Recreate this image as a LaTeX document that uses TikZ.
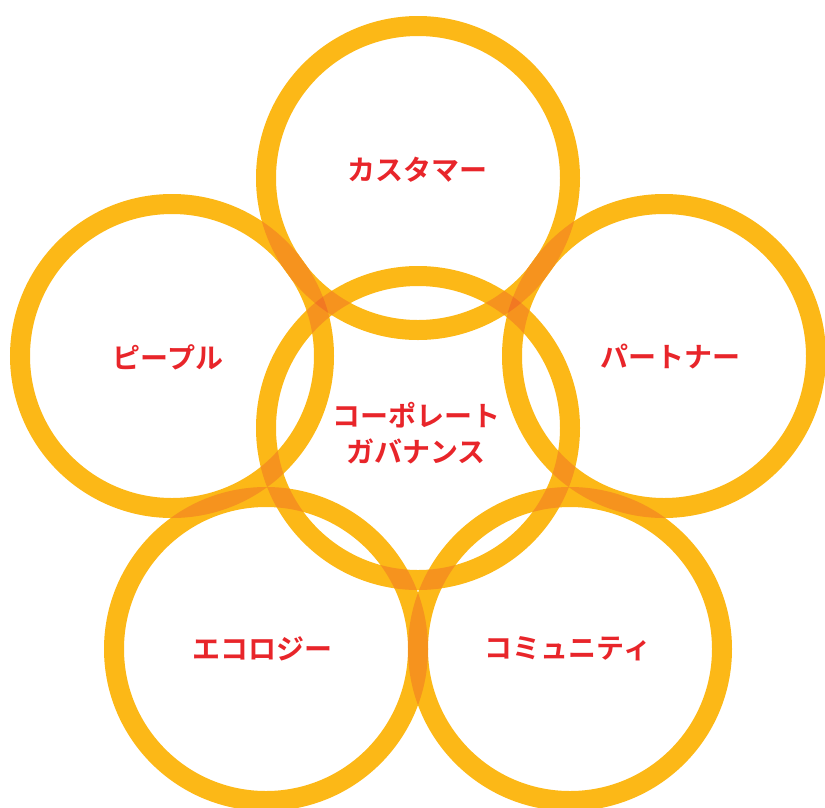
\documentclass[tikz,border=0pt]{standalone}
\usepackage{fontspec}
\newfontfamily\jp[BoldFont={Noto Sans CJK JP Bold}]{Noto Sans CJK JP}
\definecolor{ringY}{HTML}{FCB817}
\definecolor{ringO}{HTML}{F6931E}
\definecolor{ringT}{HTML}{F27822}
\definecolor{lblR}{HTML}{E8252A}
\newcommand\ringclip[1]{\clip (#1) ++(162,0) arc[start angle=0,end angle=360,radius=162] -- cycle (#1) ++(142,0) arc[start angle=0,end angle=-360,radius=142] -- cycle;}
\tikzset{
  ringline/.style={draw=ringY, line width=20pt},
  dbl/.style={draw=ringO, line width=20pt},
  trp/.style={draw=ringT, line width=20pt},
  lbl/.style={text=lblR, font=\jp\bfseries\fontsize{28}{36}\selectfont, align=center, inner sep=0pt}
}
\begin{document}
\begin{tikzpicture}[x=1pt,y=-1pt]
\useasboundingbox (0,0) rectangle (825,807);
\coordinate (T) at (418,178);
\coordinate (L) at (172,356);
\coordinate (R) at (664,356);
\coordinate (C) at (418,428);
\coordinate (BL) at (266,649);
\coordinate (BR) at (570,649);
\foreach \p in {T,L,R,C,BL,BR} \draw[ringline] (\p) circle[radius=152];
\foreach \a/\b in {T/L,T/R,T/C,L/C,R/C,L/BL,R/BR,C/BL,C/BR,BL/BR} {
  \begin{scope}\ringclip{\a}\draw[dbl] (\b) circle[radius=152];\end{scope}
}
\foreach \a/\b/\c in {T/L/C,T/R/C,C/BL/BR} {
  \begin{scope}\ringclip{\a}\ringclip{\b}\draw[trp] (\c) circle[radius=152];\end{scope}
}
\node[lbl] (nT) at (417,170) {カスタマー};
\node[lbl] (nL) at (168,357) {ピープル};
\node[lbl] (nR) at (670,357) {パートナー};
\node[lbl] (nC) at (416,433) {コーポレート\\ガバナンス};
\node[lbl] (nBL) at (262,649) {エコロジー};
\node[lbl] (nBR) at (568,649) {コミュニティ};
\end{tikzpicture}
\end{document}
